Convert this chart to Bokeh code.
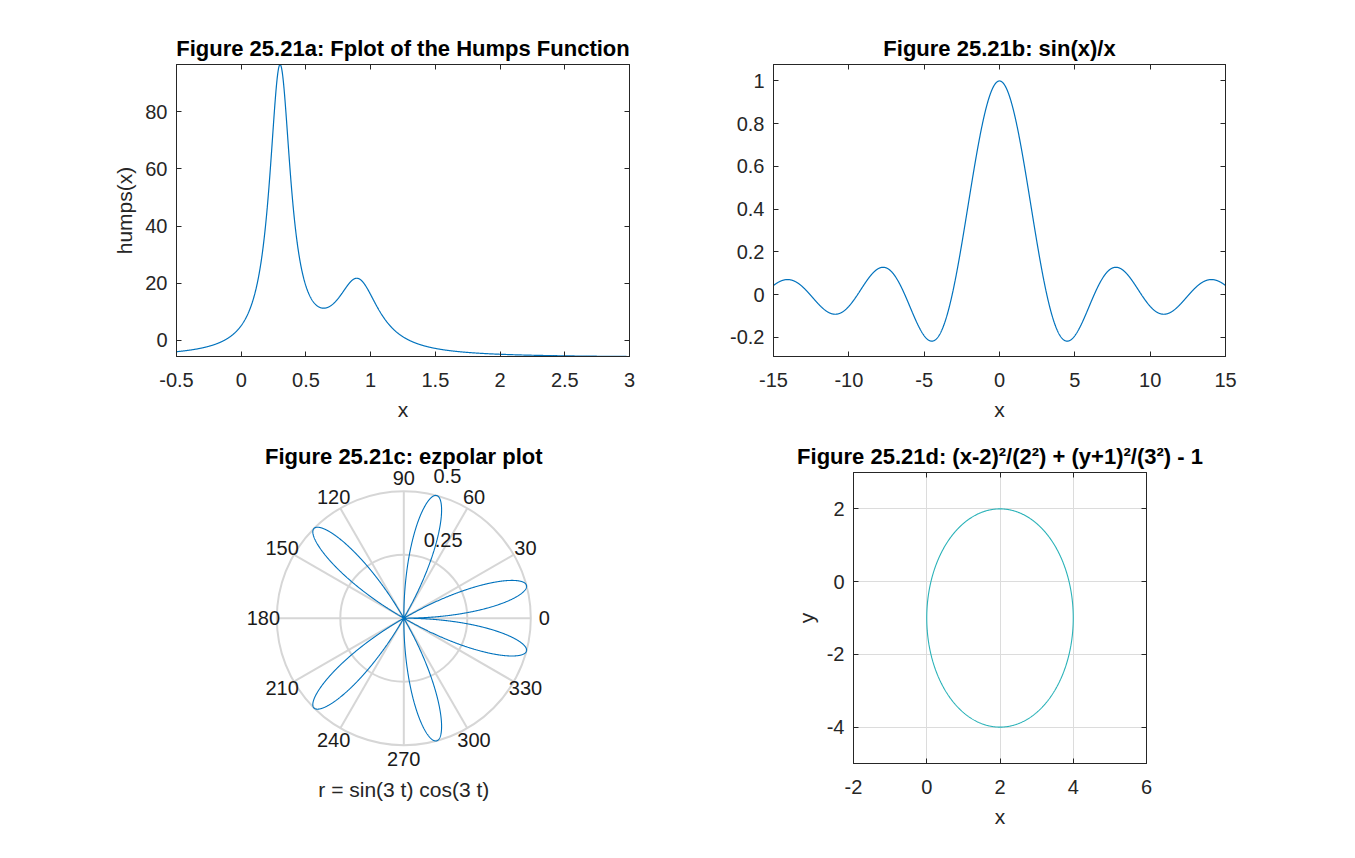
import numpy as np
from bokeh.plotting import figure
from bokeh.layouts import column, row
from bokeh.models import Range1d, FixedTicker, LinearAxis, CustomLabelingPolicy
from bokeh.core.properties import value
from bokeh.embed import file_html
from bokeh.resources import INLINE

FONT = "Liberation Sans"
BLUE = "#0072BD"
TEAL = "#2ab2b8"
DARK = "#262626"
GRID = "#d6d6d6"

# ---------------- data ----------------
# (a) humps(x) = 1/((x-c1)^2+w1) + 1/((x-c2)^2+w2) - offset
HUMPS_X_RANGE = [-0.5, 3.0]
HUMPS_Y_RANGE = [-5.64, 96.5]
HUMPS_CENTERS = [0.3, 0.9]
HUMPS_WIDTHS = [0.01, 0.04]
HUMPS_OFFSET = 6.0
A_XTICKS = [-0.5, 0, 0.5, 1, 1.5, 2, 2.5, 3]
A_XLABELS = ["-0.5", "0", "0.5", "1", "1.5", "2", "2.5", "3"]
A_YTICKS = [0, 20, 40, 60, 80]
A_YLABELS = ["0", "20", "40", "60", "80"]

# (b) sin(x)/x
B_X_RANGE = [-15, 15]
B_Y_RANGE = [-0.289, 1.077]
B_XTICKS = [-15, -10, -5, 0, 5, 10, 15]
B_XLABELS = ["-15", "-10", "-5", "0", "5", "10", "15"]
B_YTICKS = [-0.2, 0, 0.2, 0.4, 0.6, 0.8, 1]
B_YLABELS = ["-0.2", "0", "0.2", "0.4", "0.6", "0.8", "1"]

# (c) r = sin(3t) cos(3t), t in [0, pi]
C_T_RANGE = [0.0, np.pi]
C_FREQ = 3
C_RTICKS = [0.25, 0.5]
C_RTICK_LABELS = ["0.25", "0.5"]
C_ANGLES = [0, 30, 60, 90, 120, 150, 180, 210, 240, 270, 300, 330]
C_ANGLE_LABELS = [str(a) for a in C_ANGLES]

# (d) (x-2)^2/2^2 + (y+1)^2/3^2 - 1 = 0
D_CENTER = [2, -1]
D_SEMI = [2, 3]
D_X_RANGE = [-2, 6]
D_Y_RANGE = [-5, 3]
D_XTICKS = [-2, 0, 2, 4, 6]
D_XLABELS = ["-2", "0", "2", "4", "6"]
D_YTICKS = [-4, -2, 0, 2]
D_YLABELS = ["-4", "-2", "0", "2"]


def style_axis(ax, show_labels=True, xdir=True):
    ax.major_tick_in = 5
    ax.major_tick_out = 0
    ax.minor_tick_line_color = None
    ax.axis_line_color = DARK
    ax.major_tick_line_color = DARK
    ax.major_label_text_font = FONT
    ax.major_label_text_color = DARK
    if show_labels:
        ax.major_label_text_font_size = "20px"
        ax.major_label_standoff = 16 if xdir else 9
    else:
        ax.major_label_text_font_size = "0px"
        ax.major_label_standoff = 0
        ax.major_label_policy = CustomLabelingPolicy(code="return new Set()")
    ax.axis_label_text_font = FONT
    ax.axis_label_text_font_size = "21px"
    ax.axis_label_text_font_style = "normal"
    ax.axis_label_text_color = DARK
    ax.axis_label_standoff = 8 if xdir else 6


def style_title(t):
    t.text_font = FONT
    t.text_font_size = "22px"
    t.text_font_style = "bold"
    t.text_color = "#000000"
    t.align = "center"
    t.standoff = 7


def make_axes(width, height, borders, xr, yr, xt, xl, yt, yl, title, xlabel, ylabel, grid=False):
    l, r, t, b = borders
    p = figure(width=width, height=height, x_range=Range1d(*xr), y_range=Range1d(*yr),
               output_backend="svg", toolbar_location=None,
               min_border_left=l, min_border_right=r, min_border_top=t, min_border_bottom=b,
               title=title)
    style_title(p.title)
    p.outline_line_color = DARK
    p.outline_line_width = 1
    p.xaxis.ticker = FixedTicker(ticks=xt)
    p.xaxis.major_label_overrides = {k: v for k, v in zip(xt, xl)}
    p.yaxis.ticker = FixedTicker(ticks=yt)
    p.yaxis.major_label_overrides = {k: v for k, v in zip(yt, yl)}
    style_axis(p.xaxis[0], xdir=True)
    style_axis(p.yaxis[0], xdir=False)
    if xlabel:
        p.xaxis.axis_label = xlabel
    if ylabel:
        p.yaxis.axis_label = ylabel
    if grid:
        p.xgrid.ticker = FixedTicker(ticks=xt)
        p.ygrid.ticker = FixedTicker(ticks=yt)
        p.grid.grid_line_color = "#dcdcdc"
        p.grid.grid_line_width = 1
    else:
        p.grid.visible = False
    top = LinearAxis(ticker=FixedTicker(ticks=xt))
    style_axis(top, show_labels=False)
    p.add_layout(top, "above")
    right = LinearAxis(ticker=FixedTicker(ticks=yt))
    style_axis(right, show_labels=False)
    p.add_layout(right, "right")
    return p


# ---------------- panel a ----------------
pa = make_axes(680, 430, (176, 51, 64, 74), HUMPS_X_RANGE, HUMPS_Y_RANGE,
               A_XTICKS, A_XLABELS, A_YTICKS, A_YLABELS,
               "Figure 25.21a: Fplot of the Humps Function", "x", "humps(x)")
xa = np.linspace(HUMPS_X_RANGE[0], HUMPS_X_RANGE[1], 3000)
ya = sum(1.0 / ((xa - c) ** 2 + w) for c, w in zip(HUMPS_CENTERS, HUMPS_WIDTHS)) - HUMPS_OFFSET
pa.line(xa, ya, line_color=BLUE, line_width=1.2)

# ---------------- panel b ----------------
pb = make_axes(665, 430, (93, 120, 64, 74), B_X_RANGE, B_Y_RANGE,
               B_XTICKS, B_XLABELS, B_YTICKS, B_YLABELS,
               "Figure 25.21b: sin(x)/x", "x", None)
xb = np.linspace(B_X_RANGE[0], B_X_RANGE[1], 3001)
yb = np.sinc(xb / np.pi)
pb.line(xb, yb, line_color=BLUE, line_width=1.2)

# ---------------- panel c (polar) ----------------
ROW2_TOP = 430
C_W, C_H = 680, 418
C_BL, C_BR, C_BT, C_BB = 208, 82, 5, 5
PX_PER_UNIT = 254.0
CX, CY = 403.3, 617.7 - ROW2_TOP               # centre in figure pixels
fx0, fx1 = C_BL, C_W - C_BR
fy0, fy1 = C_BT, C_H - C_BB
cxr = ((fx0 - CX) / PX_PER_UNIT, (fx1 - CX) / PX_PER_UNIT)
cyr = ((CY - fy1) / PX_PER_UNIT, (CY - fy0) / PX_PER_UNIT)
pc = figure(width=C_W, height=C_H, x_range=Range1d(*cxr), y_range=Range1d(*cyr),
            x_axis_type=None, y_axis_type=None, output_backend="svg", toolbar_location=None,
            min_border_left=C_BL, min_border_right=C_BR, min_border_top=C_BT, min_border_bottom=C_BB)
pc.grid.visible = False
pc.outline_line_color = None
rmax = max(C_RTICKS)
ang = np.deg2rad(np.array(C_ANGLES, dtype=float))
pc.segment(x0=0, y0=0, x1=rmax * np.cos(ang), y1=rmax * np.sin(ang), line_color=GRID, line_width=2)
pc.circle(x=[0] * len(C_RTICKS), y=[0] * len(C_RTICKS), radius=C_RTICKS,
          fill_color=None, line_color=GRID, line_width=2)
t = np.linspace(C_T_RANGE[0], C_T_RANGE[1], 4000)
rr = np.sin(C_FREQ * t) * np.cos(C_FREQ * t)
pc.line(rr * np.cos(t), rr * np.sin(t), line_color=BLUE, line_width=1.1)
LAB_R = 0.553
pc.text(x=LAB_R * np.cos(ang), y=LAB_R * np.sin(ang), text=C_ANGLE_LABELS,
        text_align="center", text_baseline="middle", text_font=value(FONT),
        text_font_size="20px", text_color="#1a1a1a")
pc.text(x=[0.0783, 0.1169], y=[0.306, 0.558], text=C_RTICK_LABELS,
        text_align="left", text_baseline="middle", text_font=value(FONT),
        text_font_size="20px", text_color="#1a1a1a")
pc.text(x=[0], y=[(617.7 - 456) / PX_PER_UNIT], text=["Figure 25.21c: ezpolar plot"],
        text_align="center", text_baseline="middle", text_font=value(FONT),
        text_font_size="22px", text_font_style="bold", text_color="#000000")
pc.text(x=[0], y=[-(789 - 617.7) / PX_PER_UNIT], text=["r = sin(3 t) cos(3 t)"],
        text_align="center", text_baseline="middle", text_font=value(FONT),
        text_font_size="21px", text_color=DARK)

# ---------------- panel d ----------------
pd_ = make_axes(665, 418, (173, 199, 42, 85), D_X_RANGE, D_Y_RANGE,
                D_XTICKS, D_XLABELS, D_YTICKS, D_YLABELS,
                "Figure 25.21d: (x-2)\u00b2/(2\u00b2) + (y+1)\u00b2/(3\u00b2) - 1", "x", "y", grid=True)
te = np.linspace(0, 2 * np.pi, 1000)
pd_.line(D_CENTER[0] + D_SEMI[0] * np.cos(te), D_CENTER[1] + D_SEMI[1] * np.sin(te),
         line_color=TEAL, line_width=1.1)

layout = column(row(pa, pb), row(column(pc), column(pd_)))
open("out.html", "w").write(file_html(layout, INLINE))
